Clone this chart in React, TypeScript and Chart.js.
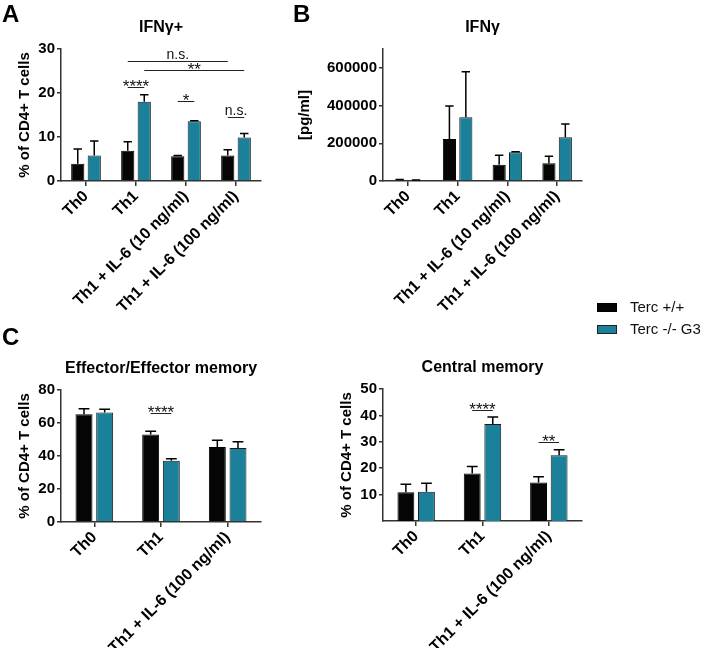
import React, { useEffect, useRef } from 'react';
import { Chart, registerables } from 'chart.js';

Chart.register(...registerables);

const FONT = "'Liberation Sans', Arial, Helvetica, sans-serif";
const BLACK = '#050505';
const TEAL = '#1b8099';

const seriesNames = ['Terc +/+', 'Terc -/- G3'];

// Panel A: IFNγ+ (% of CD4+ T cells)
const catsA = ['Th0', 'Th1', 'Th1 + IL-6 (10 ng/ml)', 'Th1 + IL-6 (100 ng/ml)'];
const aWT = [3.9, 6.9, 5.6, 5.8];
const aWTsem = [3.4, 2.0, 0.2, 1.3];
const aKO = [5.8, 18.0, 13.6, 9.9];
const aKOsem = [3.3, 1.6, 0.1, 0.9];
const aTicks = [0, 10, 20, 30];

// Panel B: IFNγ [pg/ml]
const bWT = [4000, 223000, 86500, 94000];
const bWTsem = [4000, 175000, 50000, 37000];
const bKO = [2500, 338000, 152000, 232000];
const bKOsem = [3000, 241000, 3000, 70000];
const bTicks = [0, 200000, 400000, 600000];

// Panel C
const catsC = ['Th0', 'Th1', 'Th1 + IL-6 (100 ng/ml)'];
const effWT = [65.3, 53.0, 45.4];
const effWTsem = [3.4, 2.0, 4.2];
const effKO = [66.3, 37.1, 44.8];
const effKOsem = [2.0, 1.2, 3.8];
const effTicks = [0, 20, 40, 60, 80];

const cmWT = [10.9, 18.0, 14.6];
const cmWTsem = [3.0, 2.6, 2.2];
const cmKO = [11.1, 36.7, 24.9];
const cmKOsem = [3.2, 2.7, 2.1];
const cmTicks = [10, 20, 30, 40, 50];

// significance brackets: [category, dataset] -> [category, dataset], at value y
type Bracket = { from: [number, number]; to: [number, number]; y: number; label: string };
const bracketsA: Bracket[] = [
  { from: [1, 0], to: [3, 0], y: 27.3, label: 'n.s.' },
  { from: [1, 1], to: [3, 1], y: 25.2, label: '**' },
  { from: [1, 0], to: [1, 1], y: 21.4, label: '****' },
  { from: [2, 0], to: [2, 1], y: 18.2, label: '*' },
  { from: [3, 0], to: [3, 1], y: 14.5, label: 'n.s.' },
];
const bracketsEff: Bracket[] = [{ from: [1, 0], to: [1, 1], y: 66.1, label: '****' }];
const bracketsCm: Bracket[] = [
  { from: [1, 0], to: [1, 1], y: 42.0, label: '****' },
  { from: [2, 0], to: [2, 1], y: 30.0, label: '**' },
];

type PanelCfg = {
  title: string;
  yTitle: string;
  cats: string[];
  wt: number[];
  wtSem: number[];
  ko: number[];
  koSem: number[];
  ticks: number[];
  max: number;
  brackets: Bracket[];
  left: number;
  top: number;
  width: number;
  height: number;
  yBox: number;
  yTitleOffset: number;
  padRight: number;
  xBox: number;
  catPct: number;
  barPct: number;
};

function makeAnnot(cfg: PanelCfg) {
  return {
    id: 'annot',
    afterDatasetsDraw(chart: any) {
      const ctx = chart.ctx as CanvasRenderingContext2D;
      const ys = chart.scales.y;
      const sems = [cfg.wtSem, cfg.koSem];
      const vals = [cfg.wt, cfg.ko];
      ctx.save();
      ctx.strokeStyle = '#000';
      ctx.lineWidth = 1.5;
      for (let d = 0; d < 2; d++) {
        const meta = chart.getDatasetMeta(d);
        meta.data.forEach((el: any, i: number) => {
          const top = ys.getPixelForValue(vals[d][i] + sems[d][i]);
          const x = el.x;
          const yb = el.y;
          const hw = el.width * 0.32;
          ctx.beginPath();
          ctx.moveTo(x, yb);
          ctx.lineTo(x, top);
          ctx.moveTo(x - hw, top);
          ctx.lineTo(x + hw, top);
          ctx.stroke();
        });
      }
      // brackets
      ctx.lineWidth = 1;
      ctx.strokeStyle = '#222';
      ctx.fillStyle = '#111';
      ctx.textAlign = 'center';
      ctx.textBaseline = 'alphabetic';
      cfg.brackets.forEach((b) => {
        const x1 = chart.getDatasetMeta(b.from[1]).data[b.from[0]].x;
        const x2 = chart.getDatasetMeta(b.to[1]).data[b.to[0]].x;
        const y = Math.round(ys.getPixelForValue(b.y)) + 0.5;
        ctx.beginPath();
        ctx.moveTo(x1, y);
        ctx.lineTo(x2, y);
        ctx.stroke();
        const stars = b.label.includes('*');
        ctx.font = stars ? `17px ${FONT}` : `14px ${FONT}`;
        ctx.fillText(b.label, (x1 + x2) / 2, stars ? y + 4 : y - 3);
      });
      // panel title
      const ca = chart.chartArea;
      ctx.font = `bold 16px ${FONT}`;
      ctx.fillStyle = '#000';
      ctx.textBaseline = 'middle';
      ctx.fillText(cfg.title, (ca.left + ca.right) / 2, ca.top - 21.5);
      ctx.restore();
    },
  };
}

function Panel({ cfg }: { cfg: PanelCfg }) {
  const ref = useRef<HTMLCanvasElement>(null);
  useEffect(() => {
    if (!ref.current) return;
    const axisColor = '#333';
    const chart = new Chart(ref.current, {
      type: 'bar',
      data: {
        labels: cfg.cats,
        datasets: [
          {
            label: seriesNames[0],
            data: cfg.wt,
            backgroundColor: BLACK,
            borderColor: '#000',
            borderWidth: 1,
            categoryPercentage: cfg.catPct,
            barPercentage: cfg.barPct,
          },
          {
            label: seriesNames[1],
            data: cfg.ko,
            backgroundColor: TEAL,
            borderColor: '#1a1a1a',
            borderWidth: 1,
            categoryPercentage: cfg.catPct,
            barPercentage: cfg.barPct,
          },
        ],
      },
      options: {
        responsive: false,
        maintainAspectRatio: false,
        animation: false,
        layout: { padding: { top: 49, right: cfg.padRight, left: 0, bottom: 0 } },
        plugins: {
          legend: { display: false },
          tooltip: { enabled: false },
          title: { display: false },
        },
        scales: {
          x: {
            grid: {
              offset: false,
              drawOnChartArea: false,
              drawTicks: true,
              tickLength: 5,
              color: axisColor,
              lineWidth: 1.5,
            },
            border: { display: true, color: axisColor, width: 1.5 },
            ticks: {
              minRotation: 45,
              maxRotation: 45,
              autoSkip: false,
              color: '#000',
              padding: 1,
              font: { family: FONT, size: 16, weight: 'bold' },
            },
            afterFit: (s: any) => {
              s.height = cfg.xBox;
            },
          },
          y: {
            min: 0,
            max: cfg.max,
            afterBuildTicks: (s: any) => {
              s.ticks = cfg.ticks.map((v) => ({ value: v }));
            },
            ticks: {
              color: '#000',
              padding: 2,
              font: { family: FONT, size: 15, weight: 'bold' },
              callback: (v: any) => String(v),
            },
            grid: {
              drawOnChartArea: false,
              drawTicks: true,
              tickLength: 4,
              color: axisColor,
              lineWidth: 1.5,
            },
            border: { display: true, color: axisColor, width: 1.5 },
            title: {
              display: true,
              text: cfg.yTitle,
              color: '#000',
              font: { family: FONT, size: 15, weight: 'bold', lineHeight: 1.2 },
              padding: { top: cfg.yTitleOffset - 9, bottom: 0 },
            },
            afterFit: (s: any) => {
              s.width = cfg.yBox;
            },
          },
        },
      } as any,
      plugins: [makeAnnot(cfg)],
    });
    return () => chart.destroy();
  }, [cfg]);
  return (
    <canvas
      ref={ref}
      width={cfg.width}
      height={cfg.height}
      style={{ position: 'absolute', left: cfg.left, top: cfg.top, width: cfg.width, height: cfg.height }}
    />
  );
}

const panels: PanelCfg[] = [
  {
    title: 'IFNγ+', yTitle: '% of CD4+ T cells', cats: catsA,
    wt: aWT, wtSem: aWTsem, ko: aKO, koSem: aKOsem, ticks: aTicks, max: 30, brackets: bracketsA,
    left: 0, top: 0, width: 280, height: 330, yBox: 61, yTitleOffset: 25, padRight: 19, xBox: 149,
    catPct: 0.66, barPct: 0.8,
  },
  {
    title: 'IFNγ', yTitle: '[pg/ml]', cats: catsA,
    wt: bWT, wtSem: bWTsem, ko: bKO, koSem: bKOsem, ticks: bTicks, max: 700000, brackets: [],
    left: 285, top: 0, width: 320, height: 330, yBox: 98, yTitleOffset: 20, padRight: 23, xBox: 149,
    catPct: 0.66, barPct: 0.8,
  },
  {
    title: 'Effector/Effector memory', yTitle: '% of CD4+ T cells', cats: catsC,
    wt: effWT, wtSem: effWTsem, ko: effKO, koSem: effKOsem, ticks: effTicks, max: 80, brackets: bracketsEff,
    left: 0, top: 341, width: 280, height: 307, yBox: 61, yTitleOffset: 25, padRight: 19, xBox: 126,
    catPct: 0.62, barPct: 0.82,
  },
  {
    title: 'Central memory', yTitle: '% of CD4+ T cells', cats: catsC,
    wt: cmWT, wtSem: cmWTsem, ko: cmKO, koSem: cmKOsem, ticks: cmTicks, max: 50, brackets: bracketsCm,
    left: 322, top: 340, width: 280, height: 308, yBox: 61, yTitleOffset: 25, padRight: 20, xBox: 127,
    catPct: 0.62, barPct: 0.82,
  },
];

const letterStyle: React.CSSProperties = {
  position: 'absolute',
  fontFamily: FONT,
  fontWeight: 'bold',
  fontSize: 24,
  lineHeight: '24px',
  color: '#000',
};

const legendText: React.CSSProperties = {
  position: 'absolute',
  fontFamily: FONT,
  fontSize: 15,
  lineHeight: '16px',
  color: '#111',
  whiteSpace: 'nowrap',
};

export default function App() {
  return (
    <div style={{ position: 'absolute', left: 0, top: 0, width: 709, height: 648, background: '#fff', overflow: 'hidden' }}>
      {panels.map((p, i) => (
        <Panel key={i} cfg={p} />
      ))}
      <div style={{ ...letterStyle, left: 2, top: 2 }}>A</div>
      <div style={{ ...letterStyle, left: 293, top: 2 }}>B</div>
      <div style={{ ...letterStyle, left: 2, top: 325 }}>C</div>
      <div style={{ position: 'absolute', left: 597, top: 303, width: 20, height: 9, boxSizing: 'border-box', background: BLACK, border: '1px solid #000' }} />
      <div style={{ ...legendText, left: 630, top: 299 }}>{seriesNames[0]}</div>
      <div style={{ position: 'absolute', left: 597, top: 325, width: 20, height: 9, boxSizing: 'border-box', background: TEAL, border: '1px solid #222' }} />
      <div style={{ ...legendText, left: 630, top: 321 }}>{seriesNames[1]}</div>
    </div>
  );
}
